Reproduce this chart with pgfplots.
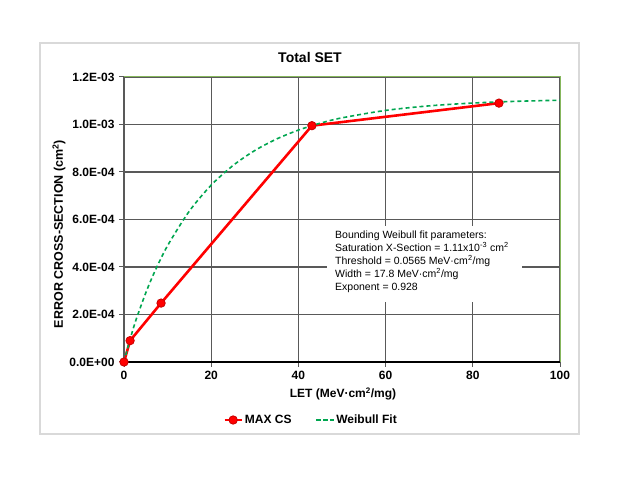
\documentclass[border=0pt]{standalone}
\usepackage{fontspec}
\setmainfont{Liberation Sans}
\usepackage{pgfplots}
\pgfplotsset{compat=1.18}
\definecolor{gridgray}{RGB}{89,89,89}
\definecolor{framegray}{RGB}{217,217,217}
\definecolor{weib}{RGB}{0,166,80}
\definecolor{boxgreen}{RGB}{134,183,92}
\begin{document}
\begin{tikzpicture}[x=1pt,y=1pt]
\path[fill=white] (0,0) rectangle (626,484);
\draw[framegray, line width=1.5pt] (40,50) rectangle (579,441);
\node[font=\fontsize{14}{16}\selectfont\bfseries] at (310,426) {Total SET};
\node[font=\fontsize{12}{14}\selectfont\bfseries] at (343,90) {LET (MeV·cm\textsuperscript{2}/mg)};
\node[font=\fontsize{12.5}{14}\selectfont\bfseries, rotate=90] at (59,250) {ERROR CROSS-SECTION (cm\textsuperscript{2})};
\begin{axis}[
  at={(124pt,122pt)}, anchor=south west,
  scale only axis, width=436pt, height=285pt,
  xmin=0, xmax=100, ymin=0, ymax=0.0012,
  scaled y ticks=false, scaled x ticks=false,
  xtick={0,20,40,60,80,100},
  xticklabels={0,20,40,60,80,100},
  ytick={0,0.0002,0.0004,0.0006,0.0008,0.001,0.0012},
  yticklabels={0.0E+00,2.0E-04,4.0E-04,6.0E-04,8.0E-04,1.0E-03,1.2E-03},
  ticklabel style={font=\fontsize{12}{14}\selectfont\bfseries},
  tick pos=left, tick align=outside, major tick length=5pt,
  tick style={gridgray, line width=1pt},
  grid=major, grid style={gridgray, line width=1.3pt},
  axis line style={draw=none},
  xticklabel style={yshift=-1pt},
  yticklabel style={xshift=-1pt},
  clip=false,
  legend style={at={(0.429,-0.2035)}, anchor=center, draw=none, fill=none,
    legend columns=2, font=\fontsize{12}{14}\selectfont\bfseries,
    /tikz/every even column/.append style={column sep=22pt}},
  legend cell align=left,
]
\addplot[red, line width=2.6pt, mark=*, mark size=4.2pt,
  mark options={fill=red, draw={rgb,255:red,200;green,0;blue,0}, line width=0.8pt, solid}]
  coordinates {(0,0) (1.4,0.000090) (8.5,0.000248) (43.1,0.000995) (86,0.00109)};
\addlegendentry{MAX CS}
\addplot[weib, line width=1.6pt, dash pattern=on 4pt off 3pt, smooth]
  coordinates {(0.0565,0) (0.2,0.0000127) (0.5,0.0000355) (1,0.0000704) (2,0.0001334)
  (3,0.0001905) (5,0.0002914) (7,0.0003788) (10,0.0004901) (15,0.0006356)
  (20,0.0007447) (25,0.0008273) (30,0.0008904) (35,0.0009389) (40,0.0009764)
  (45,0.0010054) (50,0.0010280) (60,0.0010593) (70,0.0010785) (80,0.0010903)
  (90,0.0010976) (100,0.0011022)};
\addlegendentry{Weibull Fit}
\draw[boxgreen, line width=1pt] (rel axis cs:0,1) -- (rel axis cs:1,1) -- (rel axis cs:1,0);
\draw[gridgray, line width=1.2pt] (rel axis cs:0,0) -- (rel axis cs:0,1);
\draw[black, line width=1.3pt] (rel axis cs:0,0) -- (rel axis cs:1,0);
\node[fill=white, inner sep=0pt, minimum width=195pt, minimum height=76pt,
  anchor=north west] at (axis cs:46.6,0.000573) {};
\node[anchor=north west, align=left, inner sep=0pt,
  font=\fontsize{10.5}{13}\selectfont] at (axis cs:48.4,0.000552)
  {Bounding Weibull fit parameters:\\
   Saturation X-Section = 1.11x10\textsuperscript{-3} cm\textsuperscript{2}\\
   Threshold = 0.0565 MeV·cm\textsuperscript{2}/mg\\
   Width = 17.8 MeV·cm\textsuperscript{2}/mg\\
   Exponent = 0.928};
\end{axis}
\end{tikzpicture}
\end{document}
